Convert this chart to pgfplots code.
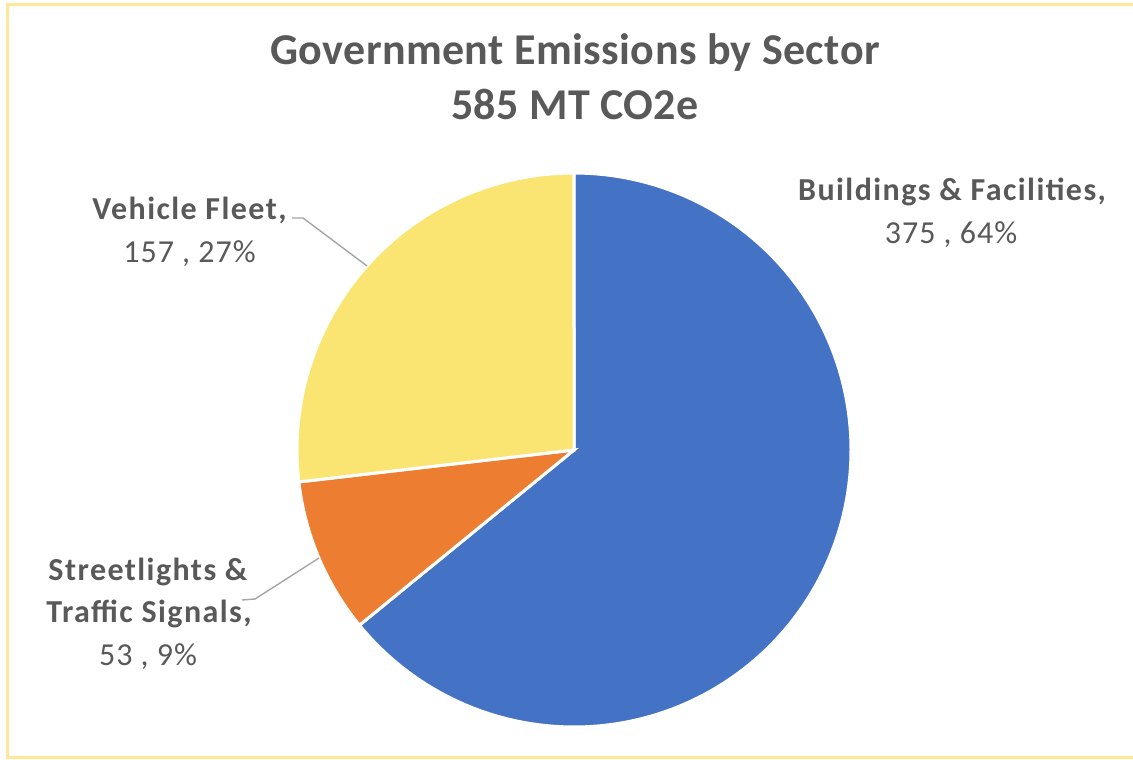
\documentclass[border=0pt]{standalone}
\usepackage{pgfplots}
\pgfplotsset{compat=1.18}
\usepackage{pgfplotstable}
\usepackage{fontspec}
\setmainfont{Carlito}
\definecolor{cBlue}{HTML}{4472C4}
\definecolor{cOrange}{HTML}{ED7D31}
\definecolor{cYellow}{HTML}{FAE572}
\definecolor{cBorder}{HTML}{FFE699}
\definecolor{cText}{HTML}{595959}
\definecolor{cLeader}{HTML}{A6A6A6}
\newcommand\ttlfont{\bfseries\fontsize{22}{26}\selectfont\addfontfeature{LetterSpace=1}}
\newcommand\lbfont{\bfseries\fontsize{16}{19}\selectfont\addfontfeature{LetterSpace=4.5}}
\newcommand\lrfont{\fontsize{16}{19}\selectfont\addfontfeature{LetterSpace=3}}

\pgfplotstableread{
sector value
Buildings 375
Streetlights 53
Vehicle 157
}\emis

\begin{document}
\pgfplotstablegetelem{0}{value}\of\emis \edef\vA{\pgfplotsretval}%
\pgfplotstablegetelem{1}{value}\of\emis \edef\vB{\pgfplotsretval}%
\pgfplotstablegetelem{2}{value}\of\emis \edef\vC{\pgfplotsretval}%
\pgfmathsetmacro\tot{\vA+\vB+\vC}%
\pgfmathsetmacro\aA{90}%
\pgfmathsetmacro\aB{\aA-360*(\vA/\tot)}%
\pgfmathsetmacro\aC{\aB-360*(\vB/\tot)}%
\pgfmathsetmacro\aD{\aC-360*(\vC/\tot)}%
\begin{tikzpicture}
\begin{axis}[width=566.5pt,height=379.5pt,scale only axis,
  xmin=0,xmax=1133,ymin=0,ymax=759,y dir=reverse,hide axis,clip=false]
\addplot[draw=white, line width=1.5pt, fill=cBlue, domain=\aB:\aA, samples=150, variable=\t]
  ({574+277*cos(\t)},{450-277*sin(\t)}) -- (574,450) -- cycle;
\addplot[draw=white, line width=1.5pt, fill=cOrange, domain=\aC:\aB, samples=40, variable=\t]
  ({574+277*cos(\t)},{450-277*sin(\t)}) -- (574,450) -- cycle;
\addplot[draw=white, line width=1.5pt, fill=cYellow, domain=\aD:\aC, samples=80, variable=\t]
  ({574+277*cos(\t)},{450-277*sin(\t)}) -- (574,450) -- cycle;
% leader lines
\draw[cLeader, line width=0.7pt] (292,218) -- (303,218) -- (367,266);
\draw[cLeader, line width=0.7pt] (242,600) -- (255,599) -- (319,558);
% border
\draw[cBorder, line width=1.5pt] (1133,4.5) -- (7.5,4.5) -- (7.5,757.5) -- (1133,757.5);
% title
\node[text=cText, anchor=base, font=\ttlfont] at (575,65) {Government Emissions by Sector};
\node[text=cText, anchor=base, font=\ttlfont] at (575,120) {585 MT CO2e};
% labels
\node[text=cText, anchor=base, font=\lbfont] at (952,200) {Buildings \& Facilities,};
\node[text=cText, anchor=base, font=\lrfont] at (951,243) {375 , 64\%};
\node[text=cText, anchor=base, font=\lbfont] at (189.5,220) {Vehicle Fleet,};
\node[text=cText, anchor=base, font=\lrfont] at (189.5,262) {157 , 27\%};
\node[text=cText, anchor=base, font=\lbfont] at (148,580) {Streetlights \&};
\node[text=cText, anchor=base, font=\lbfont] at (149,622) {Traffic Signals,};
\node[text=cText, anchor=base, font=\lrfont] at (148,665) {53 , 9\%};
\end{axis}
\pgfresetboundingbox
\path (current axis.south west) rectangle (current axis.north east);
\end{tikzpicture}
\end{document}
